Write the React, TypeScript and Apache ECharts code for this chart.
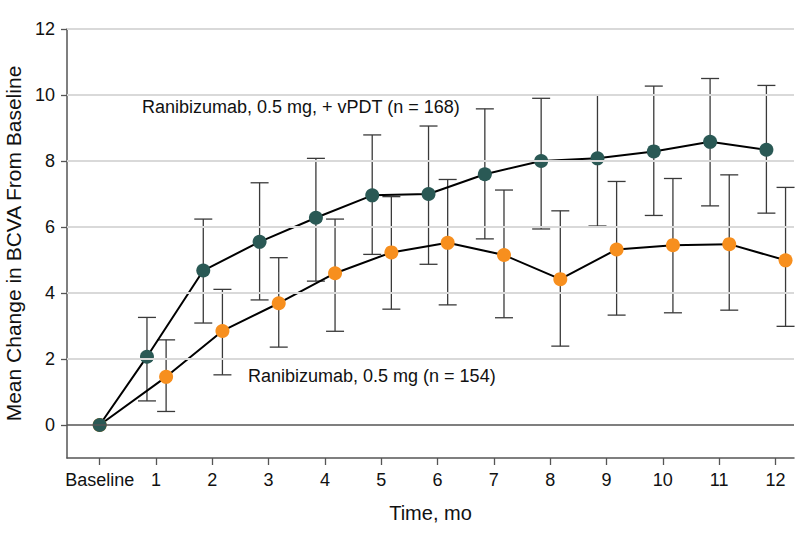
import React, { useEffect, useRef } from "react";
import * as echarts from "echarts";

const xTickValues = [0, 1, 2, 3, 4, 5, 6, 7, 8, 9, 10, 11, 12];
const yTickValues = [0, 2, 4, 6, 8, 10, 12];
const gridValues = [2, 4, 6, 8, 10, 12];
const months = [1, 2, 3, 4, 5, 6, 7, 8, 9, 10, 11, 12];

const greenName = "Ranibizumab, 0.5 mg, + vPDT (n = 168)";
const greenMean = [2.07, 4.68, 5.55, 6.28, 6.96, 7.0, 7.6, 8.0, 8.08, 8.29, 8.58, 8.34];
const greenLow = [0.73, 3.09, 3.79, 4.36, 5.17, 4.87, 5.64, 5.94, 6.03, 6.35, 6.64, 6.42];
const greenHigh = [3.26, 6.24, 7.34, 8.08, 8.79, 9.06, 9.58, 9.9, 10.01, 10.27, 10.5, 10.29];

const orangeName = "Ranibizumab, 0.5 mg (n = 154)";
const orangeMean = [1.46, 2.85, 3.69, 4.6, 5.23, 5.52, 5.15, 4.42, 5.32, 5.45, 5.48, 4.99];
const orangeLow = [0.41, 1.52, 2.36, 2.84, 3.51, 3.64, 3.25, 2.39, 3.33, 3.4, 3.48, 2.99];
const orangeHigh = [2.58, 4.11, 5.07, 6.24, 6.92, 7.44, 7.12, 6.49, 7.38, 7.47, 7.58, 7.2];

const GREEN = "#2a5955";
const ORANGE = "#f78f1e";
const GREEN_OFFSET = -0.16;
const ORANGE_OFFSET = 0.18;
const FONT = "Liberation Sans";

function errorSeries(name: string, offset: number, low: number[], high: number[]) {
  return {
    type: "custom",
    name,
    z: 1,
    silent: true,
    data: months.map((m, i) => [m + offset, low[i], high[i]]),
    encode: { x: 0, y: [1, 2] },
    renderItem: (params: any, api: any) => {
      const x = api.value(0);
      const lo = api.coord([x, api.value(1)]);
      const hi = api.coord([x, api.value(2)]);
      const hw = 9;
      const style = { stroke: "#3a3a3a", lineWidth: 1.3 };
      return {
        type: "group",
        children: [
          { type: "line", shape: { x1: lo[0], y1: lo[1], x2: hi[0], y2: hi[1] }, style },
          { type: "line", shape: { x1: hi[0] - hw, y1: hi[1], x2: hi[0] + hw, y2: hi[1] }, style },
          { type: "line", shape: { x1: lo[0] - hw, y1: lo[1], x2: lo[0] + hw, y2: lo[1] }, style },
        ],
      };
    },
  };
}

function lineSeries(name: string, offset: number, mean: number[], color: string, z: number) {
  return {
    type: "line",
    name,
    z,
    data: [[0, 0], ...months.map((m, i) => [m + offset, mean[i]])],
    symbol: "circle",
    symbolSize: 14,
    itemStyle: { color },
    lineStyle: { color: "#000", width: 2 },
  };
}

export default function App() {
  const ref = useRef<HTMLDivElement>(null);
  useEffect(() => {
    if (!ref.current) return;
    const chart = echarts.init(ref.current, null, { renderer: "svg" });
    const option: any = {
      animation: false,
      backgroundColor: "#fff",
      textStyle: { fontFamily: FONT },
      grid: { left: 67, right: 4, top: 29, bottom: 85, containLabel: false, outerBoundsMode: "none" },
      xAxis: {
        type: "value",
        min: -0.58,
        max: 12.33,
        name: "Time, mo",
        nameLocation: "middle",
        nameGap: 45,
        nameTextStyle: { fontSize: 20, color: "#111", fontFamily: FONT },
        axisLine: { show: true, onZero: false, lineStyle: { color: "#555", width: 1.5 } },
        axisTick: { show: true, length: 7, customValues: xTickValues, lineStyle: { color: "#555", width: 1.3 } },
        axisLabel: {
          customValues: xTickValues,
          margin: 13,
          fontSize: 18,
          color: "#111",
          fontFamily: FONT,
          formatter: (v: number) => (v === 0 ? "Baseline" : String(v)),
        },
        splitLine: { show: false },
      },
      yAxis: {
        type: "value",
        min: -1,
        max: 12,
        name: "Mean Change in BCVA From Baseline",
        nameLocation: "middle",
        nameRotate: 90,
        nameGap: 41,
        nameTextStyle: { fontSize: 21, color: "#111", fontFamily: FONT },
        axisLine: { show: true, onZero: false, lineStyle: { color: "#555", width: 1.5 } },
        axisTick: { show: true, length: 6, customValues: yTickValues, lineStyle: { color: "#555", width: 1.3 } },
        axisLabel: { customValues: yTickValues, margin: 12, fontSize: 18, color: "#111", fontFamily: FONT },
        splitLine: { show: false },
      },
      graphic: [
        {
          type: "text",
          left: 142,
          top: 98,
          z: 10,
          style: { text: greenName, fontSize: 18, fontFamily: FONT, fill: "#111" },
        },
        {
          type: "text",
          left: 248,
          top: 367,
          z: 10,
          style: { text: orangeName, fontSize: 18, fontFamily: FONT, fill: "#111" },
        },
      ],
      series: [
        {
          type: "line",
          name: "grid",
          data: [],
          silent: true,
          z: 0,
          markLine: {
            silent: true,
            symbol: ["none", "none"],
            label: { show: false },
            animation: false,
            data: [
              ...gridValues.map((v) => ({ yAxis: v, lineStyle: { color: "#d9d9d9", width: 2, type: "solid" } })),
              { yAxis: 0, lineStyle: { color: "#555", width: 1.5, type: "solid" } },
            ],
          },
        },
        errorSeries("err-orange", ORANGE_OFFSET, orangeLow, orangeHigh),
        errorSeries("err-green", GREEN_OFFSET, greenLow, greenHigh),
        lineSeries(orangeName, ORANGE_OFFSET, orangeMean, ORANGE, 3),
        lineSeries(greenName, GREEN_OFFSET, greenMean, GREEN, 4),
      ],
    };
    chart.setOption(option);
    return () => chart.dispose();
  }, []);
  return (
    <div
      ref={ref}
      style={{ position: "absolute", left: 0, top: 0, width: 798, height: 543, background: "#fff" }}
    />
  );
}
